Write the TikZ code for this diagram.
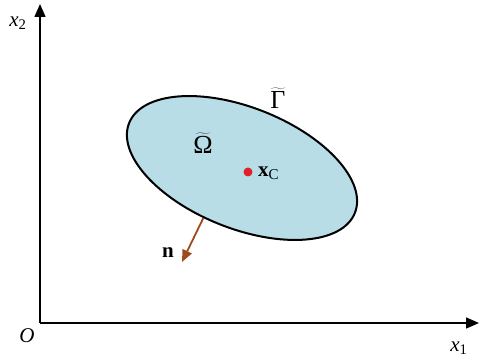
\documentclass[tikz,border=0pt]{standalone}
\usepackage{fontspec}
\setmainfont{Liberation Serif}
\usetikzlibrary{arrows.meta, positioning, shapes.geometric}
\definecolor{regionblue}{HTML}{B8DDE6}
\definecolor{normalbrown}{HTML}{9C4A1E}
\definecolor{centrered}{HTML}{E3202A}

\begin{document}
\begin{tikzpicture}[x=1pt, y=-1pt,
      axis/.style={line width=1.5pt, -{Triangle[length=13pt, width=11pt]}},
      region/.style={draw, line width=2pt, fill=regionblue, ellipse,
        minimum width=243pt, minimum height=121pt, inner sep=0pt,
        rotate=-21.7},
      normalarrow/.style={draw=normalbrown, line width=1.8pt,
        -{Triangle[length=12pt, width=10pt]}, normalbrown},
      lbl/.style={font=\fontsize{21}{25}\selectfont, inner sep=1pt},
      biglbl/.style={font=\fontsize{26}{30}\selectfont, inner sep=1pt}
    ]
      \useasboundingbox (0,0) rectangle (480,363);
      % axes
      \coordinate (o) at (40,323);
      \coordinate (xend) at (479,323);
      \coordinate (yend) at (40,4);
      \draw[axis] (o) -- (xend);
      \draw[axis] (o) -- (yend);
      \node[lbl] (olbl) at (27,336) {\textit{O}};
      \node[lbl] (x1lbl) at (459,348) {\textit{x}\textsubscript{1}};
      \node[lbl] (x2lbl) at (18,23) {\textit{x}\textsubscript{2}};
      % region and boundary
      \node[region] (gamma) at (242,168) {};
      \node[biglbl] (gammalbl) at (278,98) {$\widetilde{\mbox{Γ}}$};
      \node[biglbl] (omegalbl) at (203,143) {$\widetilde{\mbox{Ω}}$};
      % centre point
      \fill[centrered] (248,172) circle (4.5pt);
      \node[lbl, anchor=west] (xclbl) at (257,173)
        {\textbf{x}\textsubscript{\fontsize{15}{17}\selectfont C}};
      % outward normal
      \coordinate (ntip) at (182,262);
      \draw[normalarrow] (gamma.-106) -- (ntip);
      \node[lbl] (nlbl) at (168,253) {\textbf{n}};
    \end{tikzpicture}
\end{document}
